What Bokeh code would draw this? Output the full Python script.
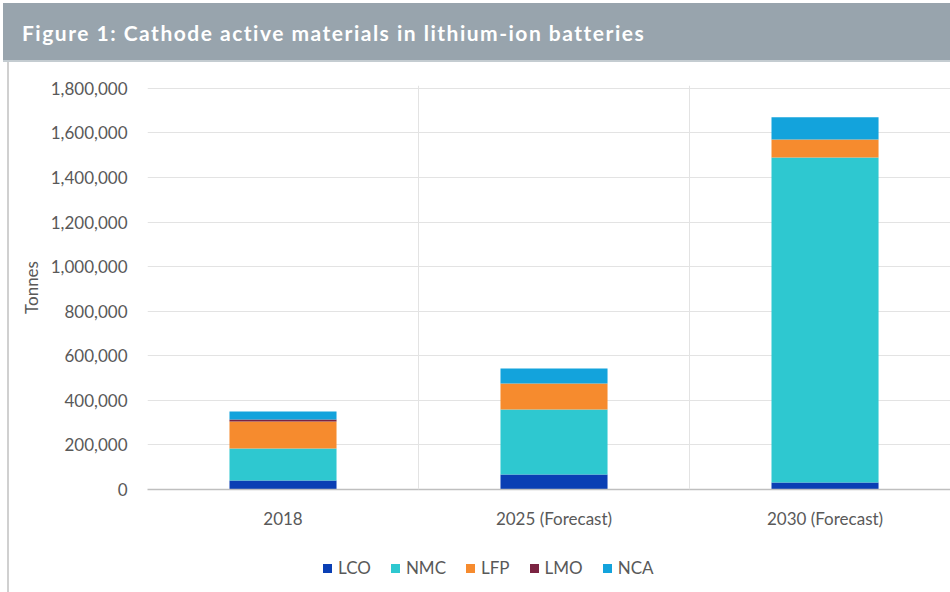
from bokeh.plotting import figure
from bokeh.models import (ColumnDataSource, Div, FixedTicker,
                          NumeralTickFormatter, Range1d, Span)
from bokeh.layouts import column, row
from bokeh.embed import file_html
from bokeh.resources import INLINE

categories = ["2018", "2025 (Forecast)", "2030 (Forecast)"]
series = ["LCO", "NMC", "LFP", "LMO", "NCA"]
LCO = [40000, 67000, 31000]
NMC = [144000, 292000, 1459000]
LFP = [121000, 117000, 81000]
LMO = [9000, 0, 0]
NCA = [36000, 67000, 99000]
colors = ["#0a3fb4", "#2ec8d0", "#f68b2e", "#7b2442", "#13a3dc"]

FONT = "Lato"
TXT = "#595959"

xs = [0.5, 1.5, 2.5]
data = {"x": xs, "LCO": LCO, "NMC": NMC, "LFP": LFP, "LMO": LMO, "NCA": NCA}
src = ColumnDataSource(data)

p = figure(width=941, height=472, output_backend="svg", toolbar_location=None,
           x_range=Range1d(0, 2.963), y_range=Range1d(0, 1813000),
           min_border_left=138, min_border_top=23, min_border_right=0,
           min_border_bottom=45, margin=0)
p.outline_line_color = None
p.background_fill_color = "white"
p.border_fill_color = "white"

renderers = p.vbar_stack(series, x="x", width=0.395, source=src, color=colors,
                         line_color=None)

p.yaxis.ticker = FixedTicker(ticks=list(range(0, 1800001, 200000)))
p.yaxis.formatter = NumeralTickFormatter(format="0,0")
p.yaxis.axis_line_color = None
p.yaxis.major_tick_line_color = None
p.yaxis.minor_tick_line_color = None
p.yaxis.major_label_text_font = FONT
p.yaxis.major_label_text_font_size = "17px"
p.yaxis.major_label_text_color = TXT
p.yaxis.major_label_standoff = 14
p.yaxis.axis_label = "Tonnes"
p.yaxis.axis_label_text_font = FONT
p.yaxis.axis_label_text_font_size = "17px"
p.yaxis.axis_label_text_font_style = "normal"
p.yaxis.axis_label_text_color = TXT
p.yaxis.axis_label_standoff = 6

p.xaxis.ticker = FixedTicker(ticks=xs)
p.xaxis.major_label_overrides = {0.5: categories[0], 1.5: categories[1], 2.5: categories[2]}
p.xaxis.axis_line_color = "#bfbfbf"
p.xaxis.axis_line_width = 1.5
p.xaxis.major_tick_line_color = None
p.xaxis.minor_tick_line_color = None
p.xaxis.major_label_text_font = FONT
p.xaxis.major_label_text_font_size = "17px"
p.xaxis.major_label_text_color = TXT
p.xaxis.major_label_standoff = 12

p.xgrid.visible = False
p.ygrid.grid_line_color = "#e3e3e3"
p.ygrid.grid_line_width = 1
for xb in [1, 2]:
    p.add_layout(Span(location=xb, dimension="height", line_color="#e3e3e3", line_width=1))

legend_html = "".join(
    f'<span style="display:inline-flex;align-items:center;margin-right:20px">'
    f'<span style="display:inline-block;width:9px;height:9px;background:{c};margin-right:6px"></span>'
    f'{s}</span>'
    for s, c in zip(series, colors))
legend_div = Div(text=f'<div style="display:flex;align-items:center">{legend_html}</div>',
                 width=941, height=58, margin=0,
                 styles={"font-family": "Lato", "font-size": "17px", "color": TXT,
                         "padding-left": "314px", "padding-top": "21px",
                         "box-sizing": "border-box", "background-color": "white"})

header = Div(text="Figure 1: Cathode active materials in lithium-ion batteries",
             width=947, height=59, margin=(3, 0, 0, 3),
             styles={"background-color": "#98a4ad", "color": "white",
                     "font-family": "Lato", "font-weight": "bold",
                     "font-size": "21px", "line-height": "59px",
                     "letter-spacing": "1.5px",
                     "padding-left": "19px", "box-sizing": "border-box",
                     "border-bottom": "2px solid #c4ccd1"})
edge = Div(text="", width=9, height=530, margin=0,
           styles={"border-right": "2px solid #d0d0d0", "box-sizing": "border-box",
                   "background-color": "white"})

layout = column(header, row(edge, column(p, legend_div, spacing=0), spacing=0), spacing=0)

open("out.html", "w").write(file_html(layout, INLINE))
